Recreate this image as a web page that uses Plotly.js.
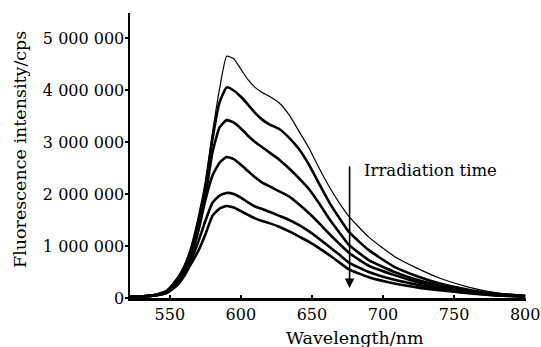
<!DOCTYPE html>
<html>
<head>
<meta charset="utf-8">
<script src="https://cdn.plot.ly/plotly-3.0.1.min.js"></script>
<style>html,body{margin:0;padding:0;background:#fff;}#chart{width:541px;height:347px;}</style>
</head>
<body>
<div id="chart"></div>
<script>
// Wavelength (nm)
const wavelength = [522,530,540,548,555,560,565,570,575,580,585,590,595,600,605,610,615,620,627,634,641,648,655,662,669,676,690,708,725,740,760,780,800];
// Fluorescence intensity (cps), six spectra, decreasing with irradiation time
const spectrum1 = [0.03e6,0.03e6,0.06e6,0.15e6,0.38e6,0.62e6,1.00e6,1.56e6,2.25e6,3.18e6,4.02e6,4.65e6,4.60e6,4.40e6,4.20e6,4.05e6,3.95e6,3.88e6,3.75e6,3.52e6,3.20e6,2.88e6,2.50e6,2.15e6,1.84e6,1.57e6,1.17e6,0.80e6,0.56e6,0.38e6,0.21e6,0.10e6,0.05e6];
const spectrum2 = [0.03e6,0.03e6,0.06e6,0.14e6,0.36e6,0.58e6,0.93e6,1.45e6,2.10e6,3.05e6,3.76e6,4.05e6,3.99e6,3.87e6,3.72e6,3.56e6,3.43e6,3.34e6,3.25e6,3.08e6,2.86e6,2.56e6,2.20e6,1.85e6,1.55e6,1.27e6,0.92e6,0.60e6,0.41e6,0.28e6,0.16e6,0.08e6,0.04e6];
const spectrum3 = [0.03e6,0.03e6,0.06e6,0.13e6,0.33e6,0.54e6,0.86e6,1.35e6,1.95e6,2.80e6,3.28e6,3.42e6,3.37e6,3.26e6,3.12e6,3.00e6,2.90e6,2.80e6,2.66e6,2.49e6,2.30e6,2.09e6,1.82e6,1.53e6,1.27e6,1.02e6,0.73e6,0.50e6,0.34e6,0.24e6,0.13e6,0.07e6,0.03e6];
const spectrum4 = [0.03e6,0.03e6,0.05e6,0.12e6,0.30e6,0.48e6,0.80e6,1.28e6,1.88e6,2.35e6,2.60e6,2.71e6,2.67e6,2.56e6,2.44e6,2.32e6,2.22e6,2.15e6,2.05e6,1.95e6,1.80e6,1.63e6,1.44e6,1.24e6,1.05e6,0.87e6,0.62e6,0.44e6,0.30e6,0.20e6,0.11e6,0.06e6,0.03e6];
const spectrum5 = [0.03e6,0.03e6,0.05e6,0.11e6,0.27e6,0.46e6,0.72e6,1.08e6,1.48e6,1.83e6,1.97e6,2.02e6,2.00e6,1.93e6,1.84e6,1.76e6,1.71e6,1.66e6,1.58e6,1.50e6,1.40e6,1.28e6,1.14e6,0.99e6,0.84e6,0.68e6,0.50e6,0.35e6,0.25e6,0.17e6,0.10e6,0.05e6,0.03e6];
const spectrum6 = [0.03e6,0.03e6,0.05e6,0.10e6,0.24e6,0.42e6,0.66e6,0.90e6,1.22e6,1.58e6,1.72e6,1.77e6,1.74e6,1.67e6,1.60e6,1.53e6,1.48e6,1.44e6,1.37e6,1.28e6,1.18e6,1.08e6,0.96e6,0.83e6,0.69e6,0.55e6,0.40e6,0.28e6,0.20e6,0.15e6,0.09e6,0.05e6,0.03e6];
const spectra = [spectrum1, spectrum2, spectrum3, spectrum4, spectrum5, spectrum6];

// Ticks
const xTickVals = [550,600,650,700,750,800];
const yTickVals = [0,1e6,2e6,3e6,4e6,5e6];
const yTickLabels = ['0','1 000 000','2 000 000','3 000 000','4 000 000','5 000 000'];

// Texts
const xTitle = 'Wavelength/nm';
const yTitle = 'Fluorescence intensity/cps';
const arrowLabel = 'Irradiation time';
const arrowWavelength = 676.5;
const arrowFrom = 2.56e6;
const arrowTo = 0.19e6;
const labelWavelength = 685;
const labelValue = 2.46e6;

const font = {family: '"DejaVu Serif", serif', size: 16, color: '#000'};
const titleFont = {family: '"DejaVu Serif", serif', size: 17.5, color: '#000'};

const traces = spectra.map((s, i) => ({
  x: wavelength, y: s, type: 'scatter', mode: 'lines',
  line: {color: '#000', width: i === 0 ? 1.2 : 2.6, shape: 'spline', smoothing: 0.45},
  hoverinfo: 'skip', showlegend: false
}));

const layout = {
  width: 541, height: 347,
  margin: {l: 130, r: 15, t: 13, b: 49},
  paper_bgcolor: '#fff', plot_bgcolor: '#fff',
  font: font,
  showlegend: false,
  xaxis: {
    range: [522, 800.6], tickvals: xTickVals, ticks: 'inside', ticklen: 3, tickwidth: 1.5, tickcolor: '#000',
    showline: true, linecolor: '#000', linewidth: 2.5, mirror: false,
    showgrid: false, zeroline: false, tickfont: font
  },
  yaxis: {
    range: [0, 5.48e6], tickvals: yTickVals, ticktext: yTickLabels, ticks: 'outside', ticklen: 3, tickwidth: 1.5, tickcolor: '#000',
    ticklabelstandoff: -3,
    showline: true, linecolor: '#000', linewidth: 2.5, mirror: false,
    showgrid: false, zeroline: false, tickfont: font
  },
  annotations: [
    {x: arrowWavelength, y: arrowTo, ax: arrowWavelength, ay: arrowFrom, xref: 'x', yref: 'y', axref: 'x', ayref: 'y',
     text: '', showarrow: true, arrowhead: 2, arrowsize: 1.2, arrowwidth: 1.6, arrowcolor: '#000'},
    {x: labelWavelength, y: labelValue, xref: 'x', yref: 'y', text: arrowLabel, showarrow: false,
     xanchor: 'left', yanchor: 'middle', font: {family: font.family, size: 16.5, color: '#000'}},
    {x: 0, y: 0, xref: 'paper', yref: 'paper', text: xTitle, showarrow: false,
     xanchor: 'center', yanchor: 'middle', font: titleFont},
    {x: 0, y: 0, xref: 'paper', yref: 'paper', text: yTitle, showarrow: false, textangle: -90,
     xanchor: 'center', yanchor: 'middle', font: titleFont}
  ]
};

// place titles at their pixel positions, expressed as paper fractions
const pw = 541 - 130 - 15, ph = 347 - 13 - 49;
layout.annotations[2].x = (355 - 130) / pw; layout.annotations[2].y = (347 - 49 - 338) / ph;
layout.annotations[3].x = (20 - 130) / pw; layout.annotations[3].y = (347 - 49 - 150) / ph;

Plotly.newPlot('chart', traces, layout, {staticPlot: true, displayModeBar: false});
</script>
</body>
</html>
